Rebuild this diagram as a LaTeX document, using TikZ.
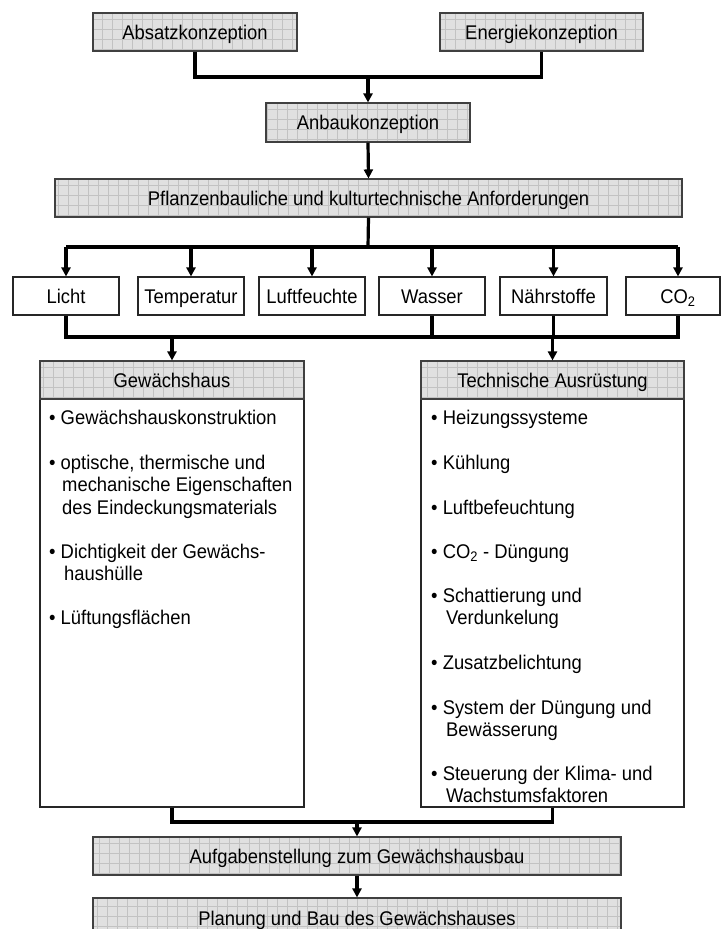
\documentclass[tikz,border=0pt]{standalone}
\usepackage{fontspec}
\setmainfont{Liberation Sans}[FakeStretch=0.93]
\usetikzlibrary{arrows.meta,calc}
\tikzset{
  txt/.style={font=\fontsize{19.8}{22.5}\selectfont, inner sep=0pt},
  boxtext/.style={text height=17.5pt, text depth=3.5pt},
  greybox/.style={txt, boxtext, draw=black!75, line width=1.1pt, fill=black!12,
    path picture={\draw[black!24, line width=0.45pt, step=10pt]
      (path picture bounding box.south west) grid (path picture bounding box.north east);}},
  plainbox/.style={txt, boxtext, draw=black!85, line width=1.1pt, fill=white},
  conn/.style={line width=3.2pt, black, line join=miter},
  arr/.style={conn, -{Triangle[width=9pt,length=9pt]}},
  itm/.style={txt, anchor=base west},
}
\begin{document}
\begin{tikzpicture}[x=1pt,y=-1pt]
\clip (0,0) rectangle (721,929);
\fill[white] (0,0) rectangle (721,929);

% top level
\node[greybox, minimum width=204pt, minimum height=38pt] (absatz) at (195,32) {Absatzkonzeption};
\node[greybox, minimum width=203pt, minimum height=38pt] (energie) at (541.5,32) {Energiekonzeption};
\node[greybox, minimum width=204pt, minimum height=39pt] (anbau) at (368,122.5) {Anbaukonzeption};
\node[greybox, minimum width=627pt, minimum height=38pt] (pflanz) at (368.5,198) {Pflanzenbauliche und kulturtechnische Anforderungen};

% six factors
\node[plainbox, minimum width=106pt, minimum height=38pt] (licht) at (66,296) {Licht};
\node[plainbox, minimum width=106pt, minimum height=38pt] (temp) at (191,296) {Temperatur};
\node[plainbox, minimum width=106pt, minimum height=38pt] (luft) at (312,296) {Luftfeuchte};
\node[plainbox, minimum width=106pt, minimum height=38pt] (wasser) at (432,296) {Wasser};
\node[plainbox, minimum width=107pt, minimum height=38pt] (naehr) at (553.5,296) {Nährstoffe};
\node[plainbox, minimum width=94pt, minimum height=38pt] (co2) at (673,296) {\hspace*{10pt}CO\textsubscript{2}};

% big boxes
\node[plainbox, minimum width=264pt, minimum height=446pt] (ghbox) at (172,584) {};
\node[greybox, minimum width=264pt, minimum height=38pt] (ghhead) at (172,380) {Gewächshaus};
\node[plainbox, minimum width=263pt, minimum height=446pt] (tabox) at (552.5,584) {};
\node[greybox, minimum width=263pt, minimum height=38pt] (tahead) at (552.5,380) {Technische Ausrüstung};

% bottom
\node[greybox, minimum width=528pt, minimum height=38pt] (aufg) at (357,856) {Aufgabenstellung zum Gewächshausbau};
\node[greybox, minimum width=528pt, minimum height=62pt] (plan) at (357,929) {};
\node[txt, anchor=base] (plantxt) at (357,925) {Planung und Bau des Gewächshauses};

% left list
\node[itm] (l1) at (49,424) {• Gewächshauskonstruktion};
\node[itm] (l2) at (49,469) {• optische, thermische und};
\node[itm] (l3) at (62,491.5) {mechanische Eigenschaften};
\node[itm] (l4) at (62,514) {des Eindeckungsmaterials};
\node[itm] (l5) at (49,558) {• Dichtigkeit der Gewächs-};
\node[itm] (l6) at (64,580.5) {haushülle};
\node[itm] (l7) at (49,624) {• Lüftungsflächen};

% right list
\node[itm] (r1) at (431,424) {• Heizungssysteme};
\node[itm] (r2) at (431,469) {• Kühlung};
\node[itm] (r3) at (431,514) {• Luftbefeuchtung};
\node[itm] (r4) at (431,558) {• CO\textsubscript{2} - Düngung};
\node[itm] (r5) at (431,602) {• Schattierung und};
\node[itm] (r6) at (446,624.5) {Verdunkelung};
\node[itm] (r7) at (431,669) {• Zusatzbelichtung};
\node[itm] (r8) at (431,714) {• System der Düngung und};
\node[itm] (r9) at (446,736.5) {Bewässerung};
\node[itm] (r10) at (431,780) {• Steuerung der Klima- und};
\node[itm] (r11) at (446,802.5) {Wachstumsfaktoren};

% connectors
\coordinate (jtop) at (368,77);
\coordinate (jmid) at (368,247);
\coordinate (jlow) at (368,337);
\coordinate (jbot) at (357,822);

\draw[conn] (absatz.south) |- (jtop) -| (energie.south);
\draw[arr] (jtop) -- (anbau.north);
\draw[arr] (anbau.south) -- (pflanz.north);
\draw[conn] (pflanz.south) -- (jmid);
\draw[conn] (licht.north |- jmid) -- ([xshift=5pt]co2.north |- jmid);
\foreach \n in {licht,temp,luft,wasser,naehr}
  \draw[arr] (\n.north |- jmid) -- (\n.north);
\draw[arr] ([xshift=5pt]co2.north |- jmid) -- ([xshift=5pt]co2.north);

\draw[conn] (licht.south) |- ([xshift=5pt]co2.south |- jlow) -- ([xshift=5pt]co2.south);
\draw[conn] (wasser.south) -- (wasser.south |- jlow);
\draw[conn] (naehr.south) -- (naehr.south |- jlow);
\draw[arr] (ghhead.north |- jlow) -- (ghhead.north);
\draw[arr] (tahead.north |- jlow) -- (tahead.north);

\draw[conn] (ghbox.south) |- (jbot) -| (tabox.south);
\draw[arr] (jbot) -- (aufg.north);
\draw[arr] (aufg.south) -- (plan.north);
\end{tikzpicture}
\end{document}
